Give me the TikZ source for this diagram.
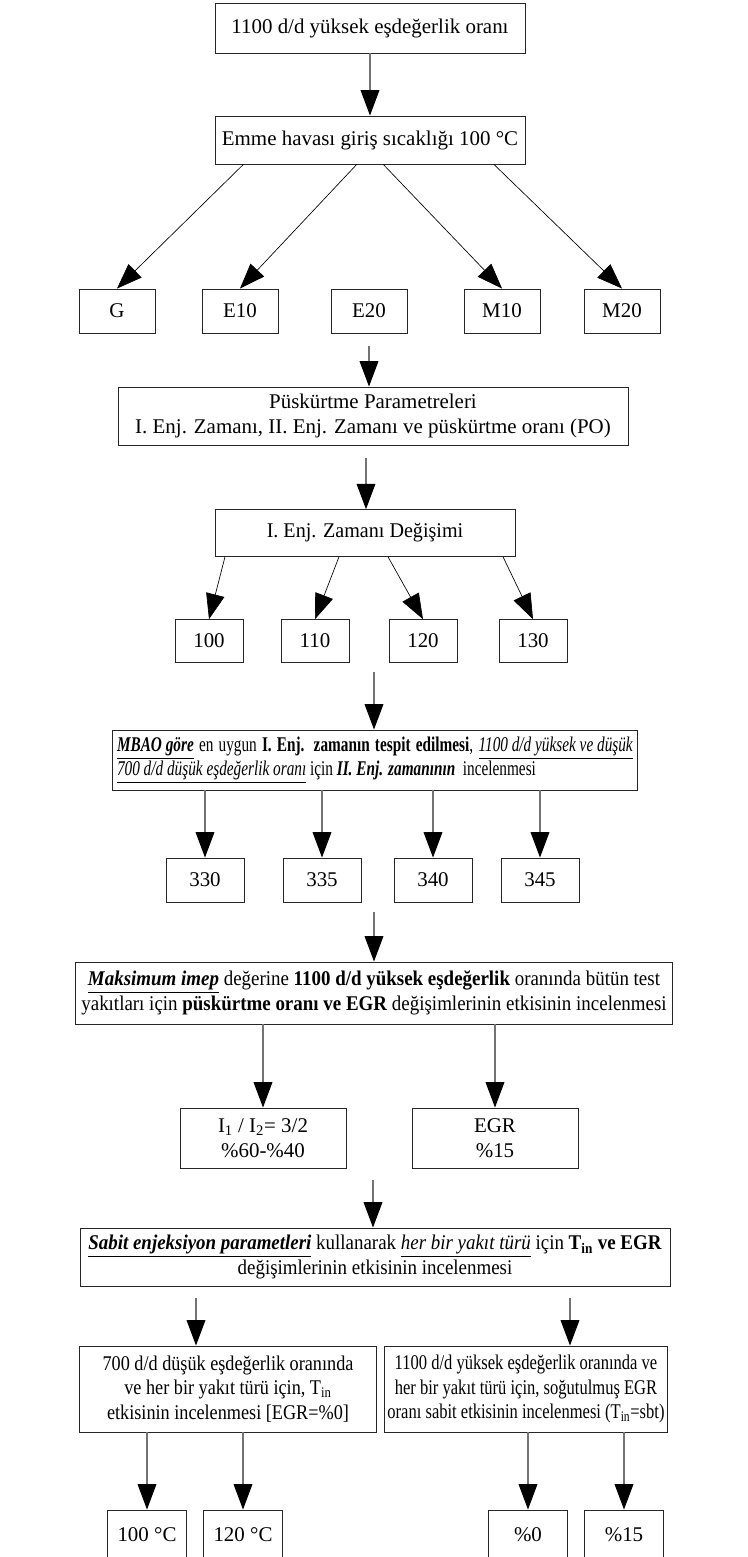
\documentclass[tikz,border=0pt]{standalone}
\usepackage{fontspec}
\setmainfont{Liberation Serif}
\newfontfamily\darA[FakeStretch=0.73]{Liberation Serif}
\newfontfamily\darB[FakeStretch=0.79]{Liberation Serif}
\newfontfamily\darC[FakeStretch=0.87]{Liberation Serif}
\newfontfamily\darD[FakeStretch=0.905]{Liberation Serif}
\newfontfamily\darE[FakeStretch=0.96]{Liberation Serif}
\usetikzlibrary{arrows.meta}

\tikzset{
  kutu/.style={draw=black!85, line width=0.7pt, align=center, inner sep=1pt,
    font=\fontsize{15.7}{18.3}\selectfont},
  sikA/.style={font=\darA\fontsize{15.7}{18.3}\selectfont},
  sikB/.style={font=\darB\fontsize{15.7}{18.3}\selectfont},
  sikC/.style={font=\darC\fontsize{15.7}{18.3}\selectfont},
  sikD/.style={font=\darD\fontsize{15.7}{18.3}\selectfont},
  sikE/.style={font=\darE\fontsize{15.7}{18.3}\selectfont},
  ok/.style={draw=black!55, line width=0.9pt,
    -{Triangle[width=14pt,length=19pt,color=black]}},
  capraz/.style={draw=black, line width=0.5pt,
    -{Triangle[width=14pt,length=19pt,color=black]}},
}

\begin{document}
\begin{tikzpicture}[x=0.75pt,y=-0.75pt]
  \useasboundingbox (0,0) rectangle (748,1557);
  \clip (0,0) rectangle (748,1557);

  % ust kisim
  \node (ust) at (370,28) [kutu, minimum width=232.5pt, minimum height=37.5pt]
    {1100 d/d yüksek eşdeğerlik oranı};
  \node (emme) at (370,140) [kutu, minimum width=232.5pt, minimum height=36pt]
    {Emme havası giriş sıcaklığı 100 °C};
  \node (g)   at (117,311) [kutu, minimum width=57pt, minimum height=33pt] {G};
  \node (e10) at (240,311) [kutu, minimum width=57pt, minimum height=33pt] {E10};
  \node (e20) at (369,311) [kutu, minimum width=57pt, minimum height=33pt] {E20};
  \node (m10) at (502,311) [kutu, minimum width=57pt, minimum height=33pt] {M10};
  \node (m20) at (622,311) [kutu, minimum width=57pt, minimum height=33pt] {M20};

  \draw[ok] (ust) -- (emme);
  \foreach \dx/\hedef in {-95/g, -10/e10, 10/m10, 93/m20}
    \draw[capraz] ([xshift=\dx pt]emme.south) -- (\hedef.north);

  % puskurtme parametreleri
  \node (pusk) at (373,416) [kutu, minimum width=382.5pt, minimum height=43.5pt]
    {Püskürtme Parametreleri\\
     I. Enj. Zamanı, II. Enj. Zamanı ve püskürtme oranı (PO)};
  \node (ienj) at (365,533) [kutu, sikE, minimum width=225pt, minimum height=35pt]
    {I. Enj. Zamanı Değişimi};
  \node (b100) at (209,641) [kutu, minimum width=51pt, minimum height=32pt] {100};
  \node (b110) at (315,641) [kutu, minimum width=51pt, minimum height=32pt] {110};
  \node (b120) at (423,641) [kutu, minimum width=51pt, minimum height=32pt] {120};
  \node (b130) at (533,641) [kutu, minimum width=51pt, minimum height=32pt] {130};

  \coordinate (a1) at (369,346);
  \draw[ok] (a1) -- (a1 |- pusk.north);
  \coordinate (a2) at (366,458);
  \draw[ok] (a2) -- (a2 |- ienj.north);
  \foreach \dx/\hedef in {-105/b100, -19.5/b110, 17.25/b120, 103.5/b130}
    \draw[capraz] ([xshift=\dx pt]ienj.south) -- (\hedef.north);

  % II. enj. zamani
  \node (mbao) at (375,760) [kutu, sikA, align=left, minimum width=393.75pt, minimum height=45pt]
    {\makebox[387pt][s]{\underline{\textbf{\textit{MBAO göre}}} en uygun
     \textbf{I. Enj. zamanın tespit edilmesi}, \underline{\textit{1100 d/d yüksek ve düşük}}}\\
     \underline{\textit{700 d/d düşük eşdeğerlik oranı}} için
     \textbf{\textit{II. Enj. zamanının}}\ \ incelenmesi};
  \node (b330) at (205,880) [kutu, minimum width=58.5pt, minimum height=33pt] {330};
  \node (b335) at (322,880) [kutu, minimum width=58.5pt, minimum height=33pt] {335};
  \node (b340) at (433,880) [kutu, minimum width=58.5pt, minimum height=33pt] {340};
  \node (b345) at (540,880) [kutu, minimum width=58.5pt, minimum height=33pt] {345};

  \coordinate (a3) at (374,672);
  \draw[ok] (a3) -- (a3 |- mbao.north);
  \foreach \hedef in {b330,b335,b340,b345}
    \draw[ok] (\hedef.north |- mbao.south) -- (\hedef.north);

  % puskurtme orani ve EGR
  \node (maks) at (374,993) [kutu, sikD, minimum width=447.75pt, minimum height=46.5pt]
    {\underline{\textbf{\textit{Maksimum imep}}} değerine \textbf{1100 d/d yüksek eşdeğerlik}
     oranında bütün test\\
     yakıtları için \textbf{püskürtme oranı ve EGR} değişimlerinin etkisinin incelenmesi};
  \node (oran) at (263,1138) [kutu, minimum width=124.5pt, minimum height=45pt]
    {I\textsubscript{1} / I\textsubscript{2}= 3/2\\ \%60-\%40};
  \node (egr) at (495,1138) [kutu, minimum width=124.5pt, minimum height=45pt]
    {EGR\\ \%15};

  \coordinate (a4) at (374,912);
  \draw[ok] (a4) -- (a4 |- maks.north);
  \foreach \hedef in {oran,egr}
    \draw[ok] (\hedef.north |- maks.south) -- (\hedef.north);

  % Tin ve EGR
  \node (sabit) at (375,1257) [kutu, sikD, minimum width=442.5pt, minimum height=43.5pt]
    {\underline{\textbf{\textit{Sabit enjeksiyon parametleri}}} kullanarak
     \underline{\textit{her bir yakıt türü}} için \textbf{T\textsubscript{in} ve EGR}\\
     değişimlerinin etkisinin incelenmesi};
  \node (sol) at (228,1389) [kutu, sikC, minimum width=222.75pt, minimum height=64.5pt]
    {700 d/d düşük eşdeğerlik oranında\\
     ve her bir yakıt türü için, T\textsubscript{in}\\
     etkisinin incelenmesi [EGR=\%0]};
  \node (sag) at (526,1389) [kutu, sikB, minimum width=212.25pt, minimum height=64.5pt]
    {1100 d/d yüksek eşdeğerlik oranında ve\\
     her bir yakıt türü için, soğutulmuş EGR\\
     oranı sabit etkisinin incelenmesi (T\textsubscript{in}=sbt)};
  \node (t100) at (147,1535) [kutu, minimum width=59.25pt, minimum height=37.5pt] {100 °C};
  \node (t120) at (243,1535) [kutu, minimum width=59.25pt, minimum height=37.5pt] {120 °C};
  \node (e0)   at (528,1535) [kutu, minimum width=59.25pt, minimum height=37.5pt] {\%0};
  \node (e15)  at (624,1535) [kutu, minimum width=59.25pt, minimum height=37.5pt] {\%15};

  \coordinate (a5) at (373,1180);
  \draw[ok] (a5) -- (a5 |- sabit.north);
  \coordinate (a6) at (196,1298);
  \coordinate (a7) at (570,1298);
  \draw[ok] (a6) -- (a6 |- sol.north);
  \draw[ok] (a7) -- (a7 |- sag.north);
  \foreach \hedef in {t100,t120}
    \draw[ok] (\hedef.north |- sol.south) -- (\hedef.north);
  \foreach \hedef in {e0,e15}
    \draw[ok] (\hedef.north |- sag.south) -- (\hedef.north);
\end{tikzpicture}
\end{document}
